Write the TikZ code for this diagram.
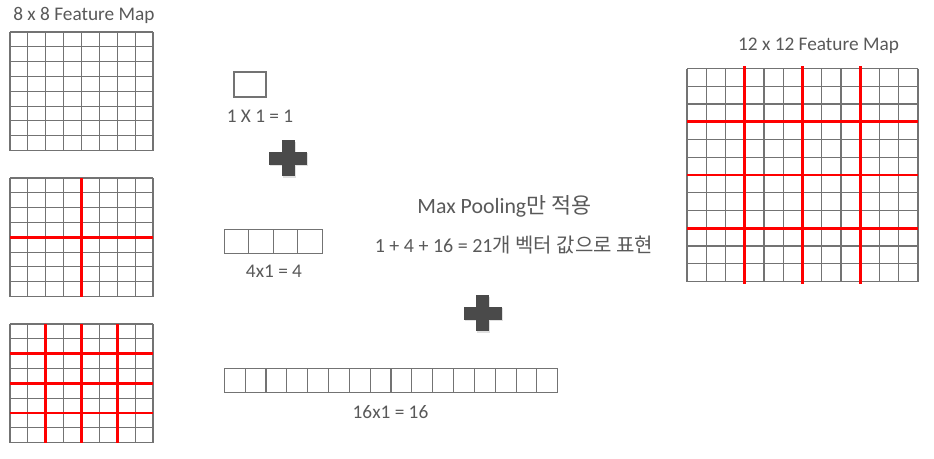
\documentclass[tikz,border=0pt]{standalone}
\usepackage{fontspec}
\setmainfont{Carlito}
\newfontfamily\kofont{Noto Sans CJK KR}
\definecolor{txtgray}{HTML}{595959}
\definecolor{linegray}{HTML}{737373}
\definecolor{plusgray}{HTML}{4A4A4A}
\definecolor{poolred}{HTML}{FF0000}

\begin{document}
\begin{tikzpicture}[x=1pt,y=-1pt]
	\tikzset{cellline/.style = {draw=linegray, line width=1.1pt}}
	\tikzset{binline/.style = {draw=poolred, line width=2.6pt}}
	\tikzset{maptext/.style = {inner sep=0pt, text=txtgray, font=\fontsize{19.3}{23}\selectfont}}
	\tikzset{plussign/.style = {fill=plusgray}}

	\useasboundingbox (0,0) rectangle (934,458);

	% 8 x 8 maps
	\foreach \mapy in {32,178,324}
		\foreach \i in {0,...,8} {
			\draw[cellline] ({10+\i*17.875},\mapy) -- ++(0,118.5);
			\draw[cellline] (10,{\mapy+\i*14.81}) -- ++(143,0);
		}
	\draw[binline] (81.5,178) -- (81.5,296.5);
	\draw[binline] (10,237.25) -- (153,237.25);
	\foreach \i in {2,4,6} {
		\draw[binline] ({10+\i*17.875},324) -- ++(0,118.5);
		\draw[binline] (10,{324+\i*14.81}) -- ++(143,0);
	}

	% 12 x 12 map
	\foreach \i in {0,...,12} {
		\draw[cellline] ({687+\i*19.25},68.5) -- ++(0,213);
		\draw[cellline] (687,{68.5+\i*17.75}) -- ++(231,0);
	}
	\foreach \i in {3,6,9} {
		\draw[binline] ({687+\i*19.25},66) -- ++(0,218);
		\draw[binline] (687,{68.5+\i*17.75}) -- ++(231,0);
	}

	% pooled vectors
	\draw[cellline] (234,72) rectangle (266,97);
	\foreach \i in {0,...,3}
		\draw[cellline] ({224.3+\i*24.5},229.3) rectangle ++(24.5,24);
	\foreach \i in {0,...,15}
		\draw[cellline] ({224.3+\i*20.84},368.3) rectangle ++(20.84,24.4);

	% plus signs
	\foreach \cx/\cy in {288/158, 482.5/313.3} {
		\fill[black!12] ({\cx-5.5},{\cy-16.5}) rectangle ({\cx+7.5},{\cy+19.5});
		\fill[black!12] ({\cx-18},{\cy-5}) rectangle ({\cx+20},{\cy+8});
		\fill[plussign] ({\cx-6.5},{\cy-18}) rectangle ({\cx+6.5},{\cy+18});
		\fill[plussign] ({\cx-19},{\cy-6.5}) rectangle ({\cx+19},{\cy+6.5});
	}

	% labels
	\node[maptext] (title8) at (83.9,15) {8 x 8 Feature Map};
	\node[maptext] (title12) at (818.5,45.7) {12 x 12 Feature Map};
	\node[maptext] (one) at (260,116.7) {1 X 1 = 1};
	\node[maptext] (four) at (274,271.7) {4x1 = 4};
	\node[maptext] (sixteen) at (390.5,412.3) {16x1 = 16};
	\node[maptext, font=\fontsize{21.8}{26}\selectfont] (pool) at (504.4,206.7) {Max Pooling{\kofont 만 적용}};
	\node[maptext, font=\fontsize{20}{24}\selectfont] (total) at (514,245) {1 + 4 + 16 = 21{\kofont 개 벡터 값으로 표현}};
\end{tikzpicture}
\end{document}
